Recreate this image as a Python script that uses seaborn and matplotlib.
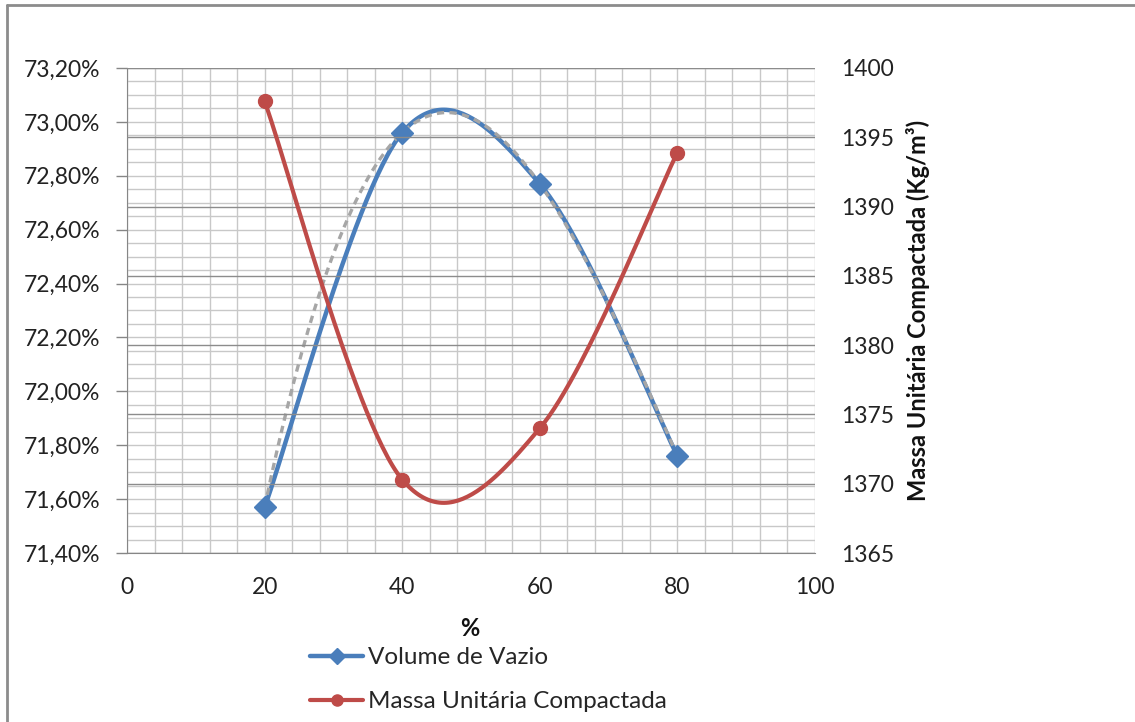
import numpy as np
import pandas as pd
import matplotlib
matplotlib.use("Agg")
import matplotlib.pyplot as plt
import seaborn as sns
from matplotlib.lines import Line2D
from matplotlib.ticker import MultipleLocator, FuncFormatter

# ---- data ----
x_pct = [20, 40, 60, 80]
volume_vazio = [71.57, 72.96, 72.77, 71.76]          # %
massa_unitaria = [1397.6, 1370.3, 1374.0, 1393.9]    # kg/m3
series_names = ["Volume de Vazio", "Massa Unitária Compactada"]
x_label = "%"
y2_label = "Massa Unitária Compactada (Kg/m³)"

BLUE = "#4A7EBB"
RED = "#BE4B48"
GRAY = "#A6A6A6"
FONT = ["Lato", "DejaVu Sans"]
TICK_FS = 16.5


def excel_smooth(xs, ys, n=60):
    """Excel-like smoothed line: cubic Bezier through points, Catmull-Rom tangents."""
    xs = np.asarray(xs, float)
    ys = np.asarray(ys, float)
    P = np.column_stack([xs, ys])
    out = []
    for i in range(len(P) - 1):
        p0 = P[i - 1] if i > 0 else P[i]
        p1 = P[i]
        p2 = P[i + 1]
        p3 = P[i + 2] if i + 2 < len(P) else P[i + 1]
        c1 = p1 + (p2 - p0) / 6.0
        c2 = p2 - (p3 - p1) / 6.0
        t = np.linspace(0, 1, n)[:, None]
        seg = ((1 - t) ** 3) * p1 + 3 * ((1 - t) ** 2) * t * c1 + 3 * (1 - t) * t ** 2 * c2 + t ** 3 * p2
        out.append(seg if i == 0 else seg[1:])
    arr = np.vstack(out)
    return arr[:, 0], arr[:, 1]


sns.set_style("white")
plt.rcParams["font.family"] = FONT

W, H = 1135, 722
fig = plt.figure(figsize=(W / 100, H / 100), dpi=100)
ax = fig.add_axes([127 / W, 1 - 553 / H, (815 - 127) / W, (553 - 68) / H])
ax2 = ax.twinx()

# limits
ax.set_xlim(0, 100)
ax.set_ylim(71.40, 73.20)
ax2.set_ylim(1365, 1400)

# grid
ax.xaxis.set_major_locator(MultipleLocator(20))
ax.xaxis.set_minor_locator(MultipleLocator(4))
ax.yaxis.set_major_locator(MultipleLocator(0.2))
ax.yaxis.set_minor_locator(MultipleLocator(0.05))
ax.grid(True, which="both", axis="both", color="#C8C8C8", lw=1.0)
ax2.yaxis.set_major_locator(MultipleLocator(5))
ax2.grid(True, which="major", axis="y", color="#8C8C8C", lw=1.0)
ax.set_axisbelow(True)
ax2.set_axisbelow(True)

# spines
for a in (ax, ax2):
    for s in a.spines.values():
        s.set_visible(False)
ax.spines["left"].set_visible(True)
ax.spines["left"].set_color("#868686")
ax.spines["bottom"].set_visible(True)
ax.spines["bottom"].set_color("#868686")

# ticks
ax.tick_params(axis="y", which="major", length=8, width=1, color="#868686",
               labelsize=TICK_FS, pad=11, labelcolor="#222222")
ax.tick_params(axis="y", which="minor", length=0)
ax.tick_params(axis="x", which="both", length=0, labelsize=TICK_FS, pad=17, labelcolor="#222222")
ax2.tick_params(axis="y", which="both", length=0, labelsize=TICK_FS, pad=19, labelcolor="#222222")
ax.yaxis.set_major_formatter(FuncFormatter(lambda v, p: f"{v:.2f}%".replace(".", ",")))
ax2.yaxis.set_major_formatter(FuncFormatter(lambda v, p: f"{v:.0f}"))

# trendline (cubic polynomial of Volume de Vazio), dashed grey
coef = np.polyfit(x_pct, volume_vazio, 3)
xt = np.linspace(min(x_pct), max(x_pct), 200)
trend = pd.DataFrame({"x": xt, "y": np.polyval(coef, xt)})

# smoothed series
bx, by = excel_smooth(x_pct, volume_vazio)
rx, ry = excel_smooth(x_pct, massa_unitaria)
df_b = pd.DataFrame({"x": bx, "y": by})
df_r = pd.DataFrame({"x": rx, "y": ry})

sns.lineplot(data=df_b, x="x", y="y", ax=ax, sort=False, color=BLUE, lw=3.2, zorder=3)
sns.lineplot(data=trend, x="x", y="y", ax=ax, sort=False, color=GRAY, lw=2.4,
             linestyle=(0, (2.2, 1.6)), zorder=4)
ax.plot(x_pct, volume_vazio, ls="none", marker="D", ms=11, color=BLUE, zorder=5)

sns.lineplot(data=df_r, x="x", y="y", ax=ax2, sort=False, color=RED, lw=3.0, zorder=3)
ax2.plot(x_pct, massa_unitaria, ls="none", marker="o", ms=10, color=RED, zorder=5)

ax.set_xlabel("")
ax.set_ylabel("")
ax2.set_ylabel("")

fig.text(470 / W, 1 - 628 / H, x_label, ha="center", va="center", fontsize=17,
         fontweight="bold", color="#111111")
fig.text(918 / W, 1 - 310 / H, y2_label, ha="center", va="center", rotation=90,
         fontsize=17, fontweight="bold", color="#111111")

# legend
handles = [Line2D([], [], color=BLUE, lw=3.2, marker="D", ms=8),
           Line2D([], [], color=RED, lw=3.0, marker="o", ms=8)]
fig.legend(handles, series_names, loc="upper left", bbox_to_anchor=(310 / W, 1 - 647 / H),
           frameon=False, fontsize=17.5, handlelength=2.2, handletextpad=0.2,
           labelspacing=0.95, borderaxespad=0, borderpad=0)

# outer chart border (top and left visible)
fig.add_artist(plt.Line2D([7 / W, 7 / W], [0, 1 - 5 / H], transform=fig.transFigure,
                          color="#8C8C8C", lw=2))
fig.add_artist(plt.Line2D([7 / W, 1], [1 - 5 / H, 1 - 5 / H], transform=fig.transFigure,
                          color="#8C8C8C", lw=2))

fig.savefig("out.png", dpi=100)
